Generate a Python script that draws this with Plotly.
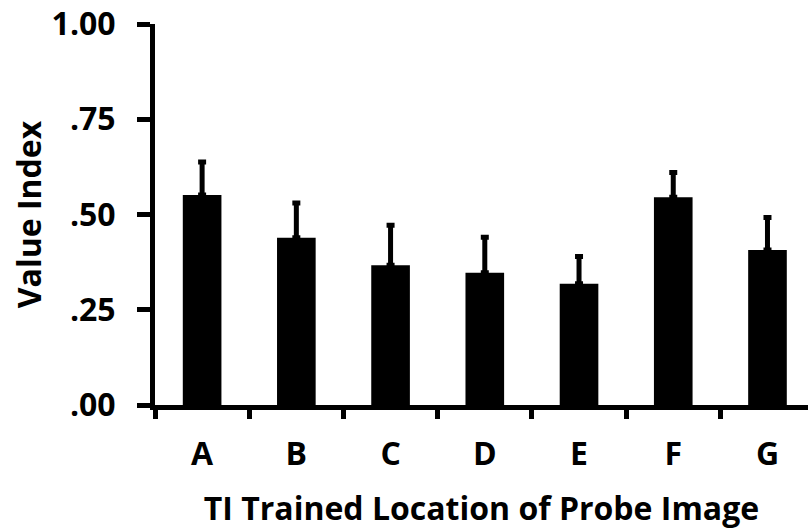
import plotly.graph_objects as go

categories = ["A", "B", "C", "D", "E", "F", "G"]
values = [0.551, 0.439, 0.367, 0.347, 0.318, 0.545, 0.407]
errors_up = [0.087, 0.091, 0.105, 0.093, 0.072, 0.065, 0.085]
y_tick_vals = [0.0, 0.25, 0.5, 0.75, 1.0]
y_tick_text = [".00", ".25", ".50", ".75", "1.00"]

FONT = "Open Sans"

fig = go.Figure()
fig.add_trace(go.Bar(
    x=categories,
    y=values,
    width=0.41,
    marker=dict(color="black", line=dict(width=0)),
    error_y=dict(
        type="data",
        symmetric=False,
        array=errors_up,
        arrayminus=[0] * len(values),
        color="black",
        thickness=5,
        width=4,
    ),
))

fig.update_layout(
    width=808,
    height=531,
    margin=dict(l=155, r=0, t=24, b=126),
    plot_bgcolor="white",
    paper_bgcolor="white",
    showlegend=False,
    font=dict(family=FONT, color="black"),
)

fig.update_xaxes(
    type="category",
    range=[-0.5, 6.43],
    showline=True,
    linecolor="black",
    linewidth=5,
    ticks="outside",
    tickson="boundaries",
    ticklen=9,
    tickwidth=5,
    tickcolor="black",
    tickfont=dict(family=FONT, size=32, color="black", weight="bold"),
    ticklabelstandoff=17,
    showgrid=False,
    zeroline=False,
    title=dict(text="<b>TI Trained Location of Probe Image</b>",
               font=dict(family=FONT, size=32, color="black"), standoff=26),
)

fig.update_yaxes(
    range=[0, 1],
    tickvals=y_tick_vals,
    ticktext=y_tick_text,
    showline=True,
    linecolor="black",
    linewidth=5,
    ticks="outside",
    ticklen=13,
    tickwidth=5,
    tickcolor="black",
    tickfont=dict(family=FONT, size=32, color="black", weight="bold"),
    ticklabelstandoff=15,
    showgrid=False,
    zeroline=False,
    title=dict(text="<b>Value Index</b>",
               font=dict(family=FONT, size=32, color="black"), standoff=2),
)

fig.write_html("out.html")
